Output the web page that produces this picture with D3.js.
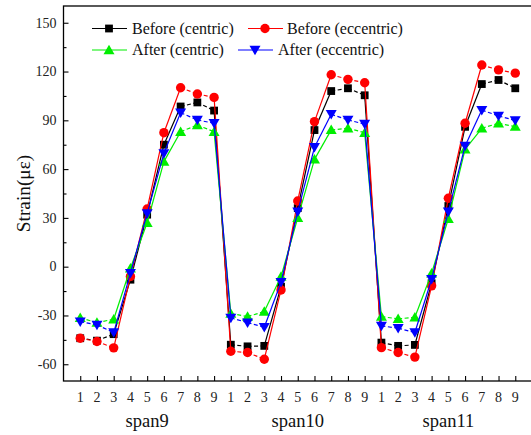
<!DOCTYPE html>
<html>
<head>
<meta charset="utf-8">
<script src="https://cdn.jsdelivr.net/npm/d3@7"></script>
<style>
  html, body { margin: 0; padding: 0; background: #fff; }
  svg { display: block; font-family: "Liberation Serif", "Times New Roman", serif; }
</style>
</head>
<body>
<svg id="chart" width="531" height="435"></svg>
<script>
// Strain readings at measuring points 1–9 of three spans
const spans = ["span9", "span10", "span11"];
const pointLabels = ["1", "2", "3", "4", "5", "6", "7", "8", "9"];
const beforeCentric = [
  -44, -45.5, -41.5, -8, 32, 75, 98.5, 101, 96,
  -48, -49, -48.7, -12.3, 36, 84, 108, 109.7, 105.4,
  -46.7, -48.7, -48.1, -10.2, 37.3, 86, 112.3, 114.8, 109.7
];
const beforeEccentric = [
  -44, -46, -49.9, -6, 35.5, 82.4, 110, 106.2, 104.1,
  -52, -52.8, -56.9, -14.3, 40.4, 89.2, 118, 115.2, 113.1,
  -49.8, -52.8, -55.6, -11.8, 42.1, 88.2, 124, 121, 119
];
const afterCentric = [
  -31.5, -34.4, -32.3, -1, 27, 64.6, 83, 87.1, 83,
  -28.8, -30.7, -27.6, -6.1, 30, 66, 84.1, 85.1, 82.4,
  -30.7, -32.1, -31.1, -4, 29.5, 72.2, 85.1, 88.2, 86.1
];
const afterEccentric = [
  -33.8, -35.8, -40.5, -4, 32.8, 69.7, 94.7, 90.2, 88.2,
  -31.5, -34.4, -37.2, -9.6, 33.8, 73.4, 93.7, 90.2, 87.7,
  -36.4, -37.8, -40.5, -7.7, 33.8, 74.2, 96.3, 92.7, 89.9
];
const yTicks = [-60, -30, 0, 30, 60, 90, 120, 150];

const series = [
  { name: "Before (centric)",   values: beforeCentric,   color: "#000000", shape: "square" },
  { name: "Before (eccentric)", values: beforeEccentric, color: "#ff0000", shape: "circle" },
  { name: "After (centric)",    values: afterCentric,    color: "#00ee00", shape: "up" },
  { name: "After (eccentric)",  values: afterEccentric,  color: "#0000ff", shape: "down" }
];

const svg = d3.select("#chart");
const plotLeft = 63.5, plotRight = 532, plotTop = 6, plotBottom = 381;
const nPts = spans.length * pointLabels.length;

const x = d3.scaleLinear().domain([0, nPts + 1]).range([plotLeft, plotRight]);
const y = d3.scaleLinear().domain([-70.3, 160.3]).range([plotBottom, plotTop]);

// frame
svg.append("rect")
  .attr("x", plotLeft).attr("y", plotTop)
  .attr("width", plotRight - plotLeft).attr("height", plotBottom - plotTop)
  .attr("fill", "none").attr("stroke", "#000").attr("stroke-width", 1.3);

// y axis: inward major ticks with minor ticks in between
const gy = svg.append("g").attr("transform", `translate(${plotLeft},0)`)
  .call(d3.axisRight(y).tickValues(yTicks).tickSize(5).tickFormat(""));
gy.select(".domain").remove();
const yMinor = d3.range(-60, 160, 15).filter(v => !yTicks.includes(v));
const gym = svg.append("g").attr("transform", `translate(${plotLeft},0)`)
  .call(d3.axisRight(y).tickValues(yMinor).tickSize(3).tickFormat(""));
gym.select(".domain").remove();

svg.append("g").selectAll("text").data(yTicks).join("text")
  .attr("x", plotLeft - 7).attr("y", d => y(d) + 4.8)
  .attr("text-anchor", "end").attr("font-size", 14).attr("fill", "#222")
  .text(d => d);

// x axis: one tick per measuring point
const idx = d3.range(1, nPts + 1);
const gx = svg.append("g").attr("transform", `translate(0,${plotBottom})`)
  .call(d3.axisTop(x).tickValues(idx).tickSize(5).tickFormat(""));
gx.select(".domain").remove();
svg.selectAll(".tick line").attr("stroke", "#000").attr("stroke-width", 1.1);

svg.append("g").selectAll("text").data(idx).join("text")
  .attr("x", d => x(d)).attr("y", 402)
  .attr("text-anchor", "middle").attr("font-size", 14).attr("fill", "#222")
  .text(d => pointLabels[(d - 1) % pointLabels.length]);

svg.append("g").selectAll("text").data(spans).join("text")
  .attr("x", (d, i) => x(i * pointLabels.length + 5)).attr("y", 427)
  .attr("text-anchor", "middle").attr("font-size", 18.5).attr("fill", "#111")
  .text(d => d);

svg.append("text")
  .attr("transform", `translate(29.5,${y(45)}) rotate(-90)`)
  .attr("text-anchor", "middle").attr("font-size", 19.3).attr("fill", "#111")
  .text("Strain(με)");

// marker shapes
function marker(g, shape, cx, cy, color) {
  if (shape === "square") {
    g.append("rect").attr("x", cx - 3.9).attr("y", cy - 3.9).attr("width", 7.8).attr("height", 7.8)
      .attr("fill", color);
  } else if (shape === "circle") {
    g.append("circle").attr("cx", cx).attr("cy", cy).attr("r", 4.7).attr("fill", color);
  } else {
    const s = shape === "up" ? -1 : 1;
    const pts = [[cx - 5.5, cy - s * 4.2], [cx + 5.5, cy - s * 4.2], [cx, cy + s * 5.3]];
    g.append("path").attr("d", d3.line()(pts) + "Z").attr("fill", color);
  }
}

// plateau segments (1–3 and 7–9 within a span) are dashed
function isDashed(i) {
  const p = i % pointLabels.length;
  return p === 0 || p === 1 || p === 6 || p === 7;
}

series.forEach(s => {
  const g = svg.append("g");
  for (let i = 0; i < s.values.length - 1; i++) {
    g.append("line")
      .attr("x1", x(i + 1)).attr("y1", y(s.values[i]))
      .attr("x2", x(i + 2)).attr("y2", y(s.values[i + 1]))
      .attr("stroke", s.color).attr("stroke-width", 1.2)
      .attr("stroke-dasharray", isDashed(i) ? "4,2.5" : null);
  }
  s.values.forEach((v, i) => marker(g, s.shape, x(i + 1), y(v), s.color));
});

// legend
const legendPos = [
  { lx: 92, mx: 109, tx: 132, ly: 28.5 },
  { lx: 248, mx: 265, tx: 287, ly: 28.5 },
  { lx: 92, mx: 109, tx: 132, ly: 50 },
  { lx: 238, mx: 255, tx: 278, ly: 50 }
];
series.forEach((s, i) => {
  const p = legendPos[i];
  const g = svg.append("g");
  g.append("line").attr("x1", p.lx).attr("x2", p.lx + 35).attr("y1", p.ly).attr("y2", p.ly)
    .attr("stroke", s.color).attr("stroke-width", 1.2);
  marker(g, s.shape, p.mx, p.ly, s.color);
  g.append("text").attr("x", p.tx).attr("y", p.ly + 5.3)
    .attr("font-size", 16).attr("fill", "#111").text(s.name);
});
</script>
</body>
</html>
